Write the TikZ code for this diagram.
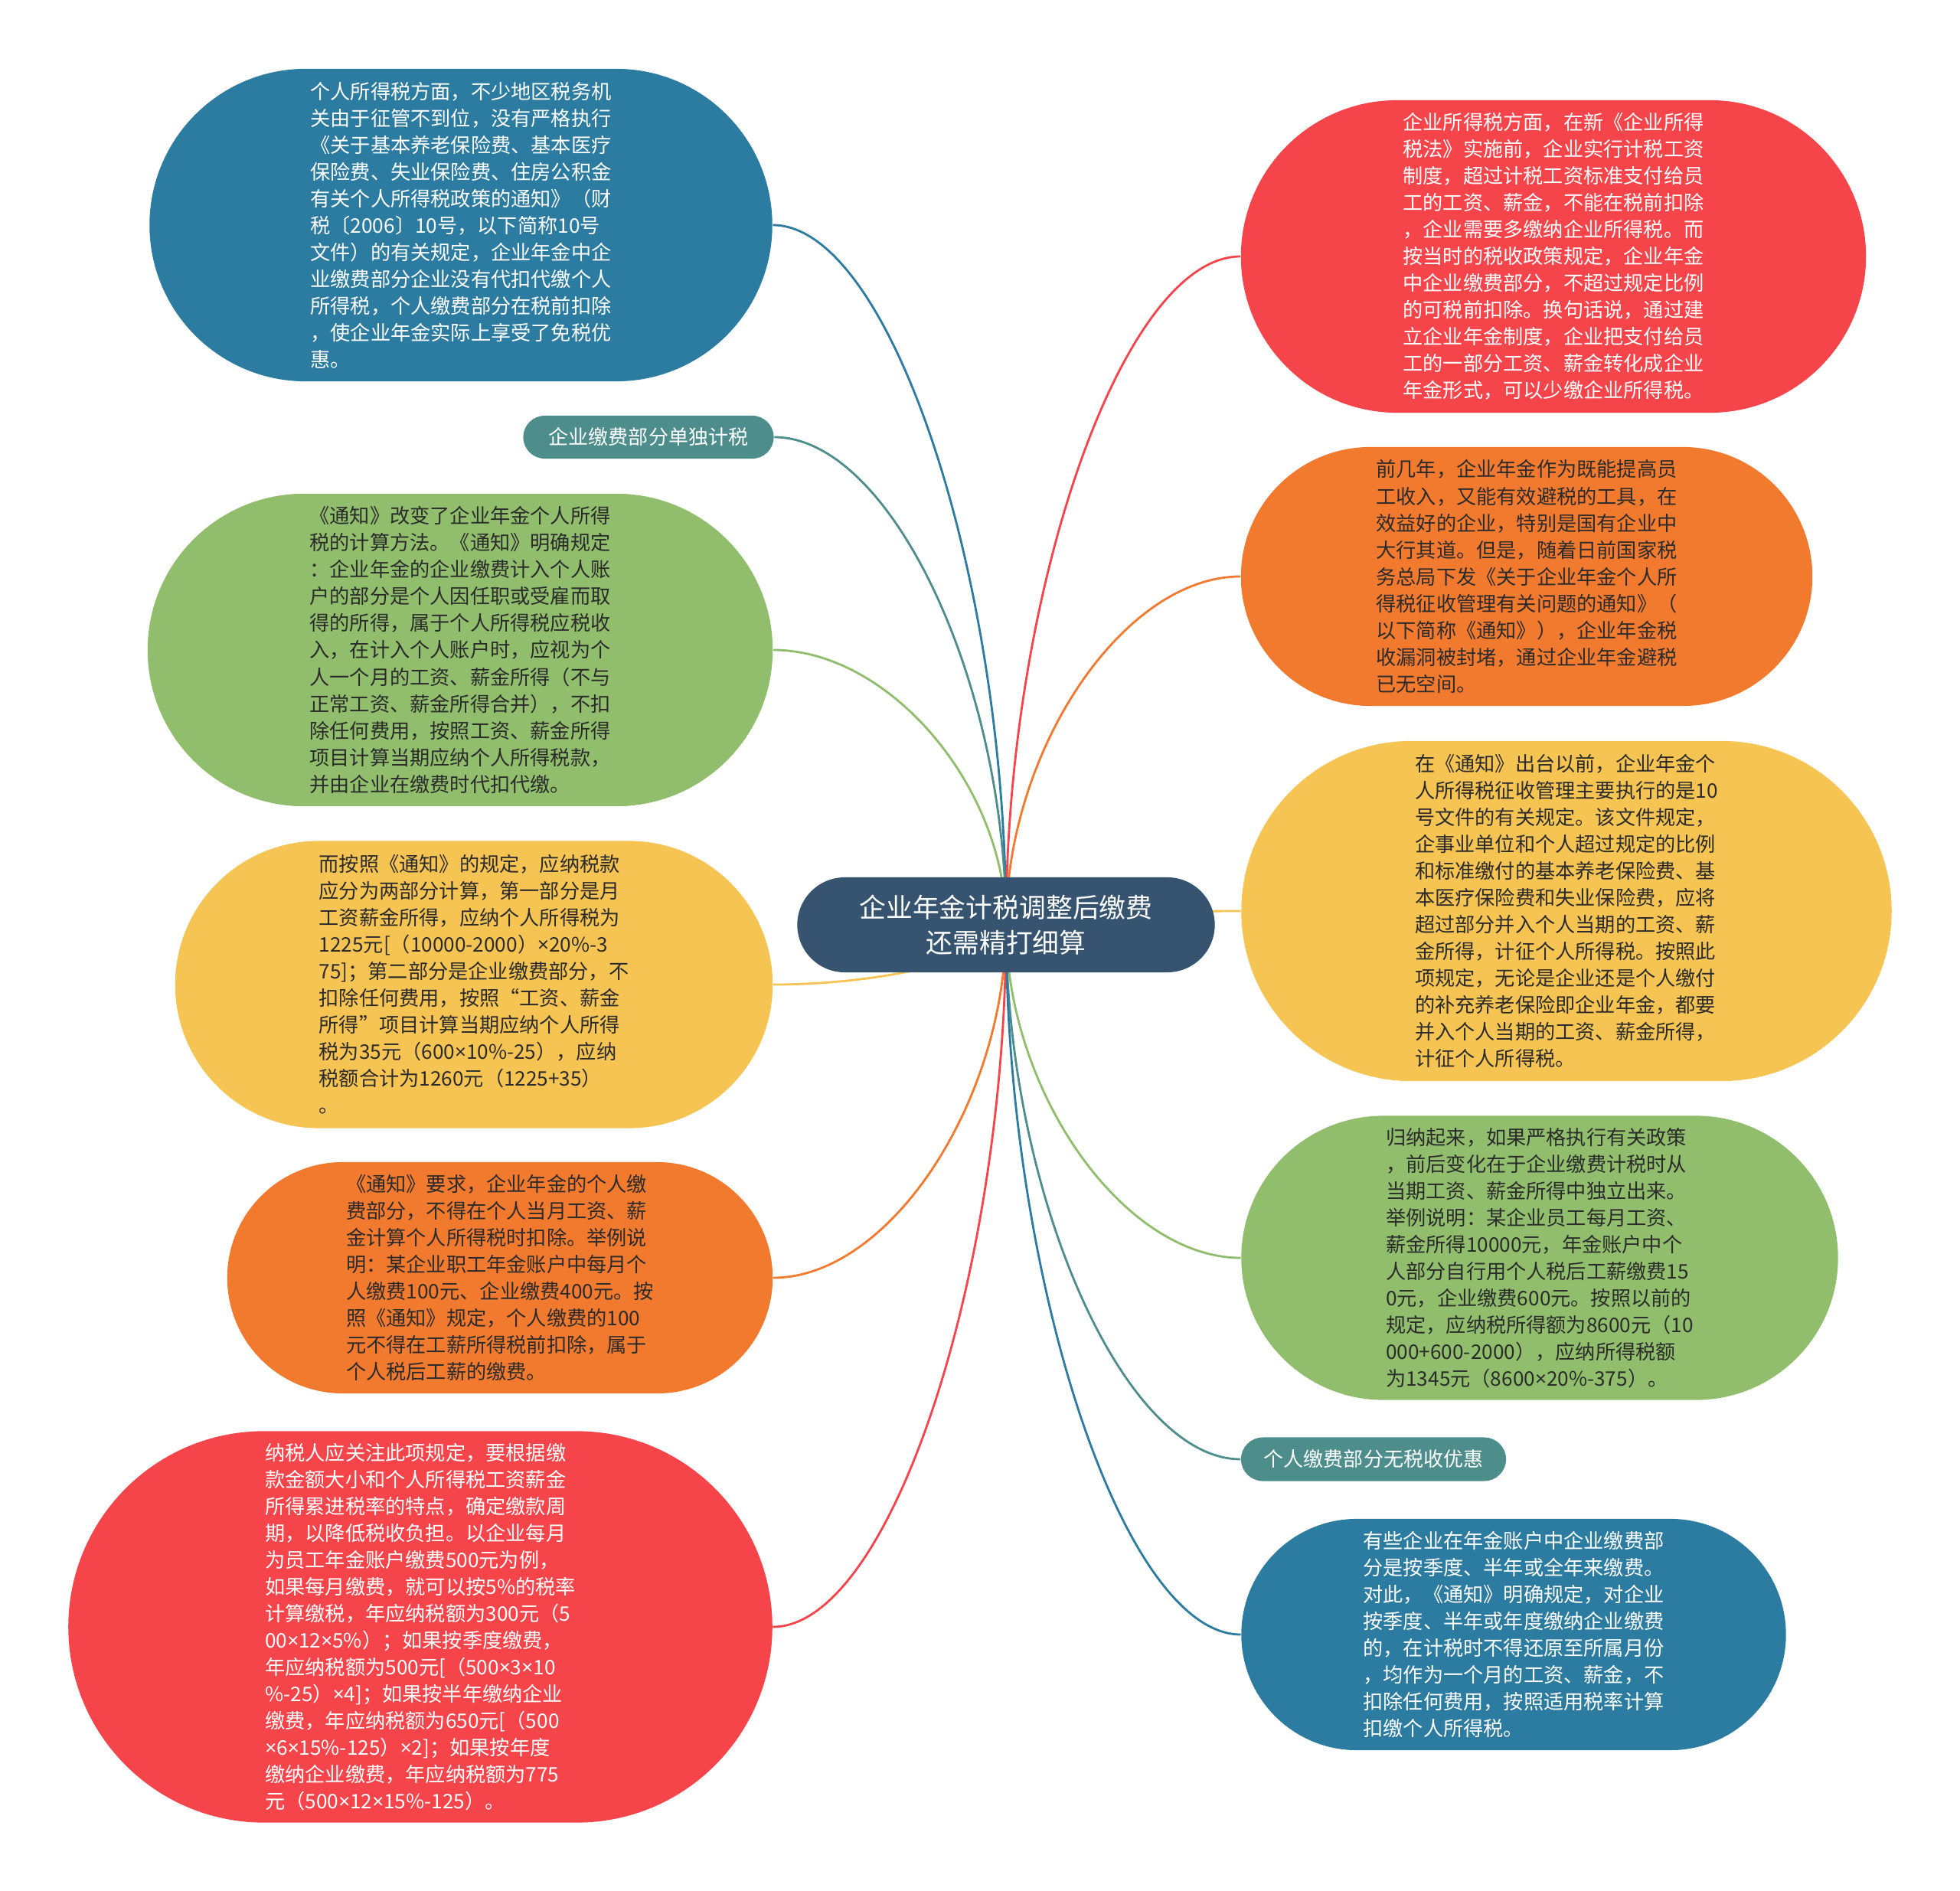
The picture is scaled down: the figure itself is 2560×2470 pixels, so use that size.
\documentclass[tikz,border=0pt]{standalone}
\usepackage{fontspec}
\setmainfont{Noto Sans CJK SC}
\newfontfamily\latinfont{Noto Sans}
\newcommand{\by}{{\latinfont ×}}
\usepackage{xcolor}
\usetikzlibrary{shapes.misc,backgrounds,calc}

\definecolor{mapblue}{HTML}{2C7BA0}
\definecolor{mapred}{HTML}{F5444A}
\definecolor{mapgreen}{HTML}{90BE6C}
\definecolor{mapyellow}{HTML}{F6C453}
\definecolor{maporange}{HTML}{F17A2F}
\definecolor{mapteal}{HTML}{4D8E8C}
\definecolor{mapnavy}{HTML}{36536F}
\definecolor{maptext}{HTML}{2B2B2B}

\begin{document}
\begin{tikzpicture}[x=0.01cm,y=-0.01cm,
   leaf/.style={rounded rectangle,align=left,inner sep=0pt,font=\fontsize{7.45pt}{9.96pt}\selectfont},
   tag/.style={rounded rectangle,fill=mapteal,text=white,inner sep=0pt,font=\fontsize{7.4pt}{9pt}\selectfont},
   link/.style={line width=0.8pt}]
   \useasboundingbox (0,0) rectangle (2560,2470);

   % root
   \node[rounded rectangle,fill=mapnavy,text=white,align=center,inner sep=0pt,minimum width=5.45cm,minimum height=1.24cm,
         font=\fontsize{9.9pt}{12.96pt}\selectfont] (root) at (1314,1208) {企业年金计税调整后缴费\\还需精打细算};

   % left side
   \node[leaf,fill=mapblue,text=white,minimum width=8.13cm,minimum height=4.08cm] (geshui) at (602,294)
      {个人所得税方面，不少地区税务机\\关由于征管不到位，没有严格执行\\《关于基本养老保险费、基本医疗\\保险费、失业保险费、住房公积金\\有关个人所得税政策的通知》（财\\税〔2006〕10号，以下简称10号\\文件）的有关规定，企业年金中企\\业缴费部分企业没有代扣代缴个人\\所得税，个人缴费部分在税前扣除\\，使企业年金实际上享受了免税优\\惠。};
   \node[tag,minimum width=3.27cm,minimum height=0.56cm] (danduji) at (847,571) {企业缴费部分单独计税};
   \node[leaf,fill=mapgreen,text=maptext,minimum width=8.16cm,minimum height=4.08cm] (gaibian) at (601,849)
      {《通知》改变了企业年金个人所得\\税的计算方法。《通知》明确规定\\：企业年金的企业缴费计入个人账\\户的部分是个人因任职或受雇而取\\得的所得，属于个人所得税应税收\\入，在计入个人账户时，应视为个\\人一个月的工资、薪金所得（不与\\正常工资、薪金所得合并），不扣\\除任何费用，按照工资、薪金所得\\项目计算当期应纳个人所得税款，\\并由企业在缴费时代扣代缴。};
   \node[leaf,fill=mapyellow,text=maptext,minimum width=7.80cm,minimum height=3.75cm] (anzhao) at (619,1286)
      {而按照《通知》的规定，应纳税款\\应分为两部分计算，第一部分是月\\工资薪金所得，应纳个人所得税为\\1225元[（10000-2000）\by20\%-3\\75]；第二部分是企业缴费部分，不\\扣除任何费用，按照“工资、薪金\\所得”项目计算当期应纳个人所得\\税为35元（600\by10\%-25），应纳\\税额合计为1260元（1225+35）\\。};
   \node[leaf,fill=maporange,text=maptext,minimum width=7.12cm,minimum height=3.02cm] (yaoqiu) at (653,1669)
      {《通知》要求，企业年金的个人缴\\费部分，不得在个人当月工资、薪\\金计算个人所得税时扣除。举例说\\明：某企业职工年金账户中每月个\\人缴费100元、企业缴费400元。按\\照《通知》规定，个人缴费的100\\元不得在工薪所得税前扣除，属于\\个人税后工薪的缴费。};
   \node[leaf,fill=mapred,text=white,minimum width=9.19cm,minimum height=5.11cm] (nashui) at (549,2125)
      {纳税人应关注此项规定，要根据缴\\款金额大小和个人所得税工资薪金\\所得累进税率的特点，确定缴款周\\期，以降低税收负担。以企业每月\\为员工年金账户缴费500元为例，\\如果每月缴费，就可以按5\%的税率\\计算缴税，年应纳税额为300元（5\\00\by12\by5\%）；如果按季度缴费，\\年应纳税额为500元[（500\by3\by10\\\%-25）\by4]；如果按半年缴纳企业\\缴费，年应纳税额为650元[（500\\\by6\by15\%-125）\by2]；如果按年度\\缴纳企业缴费，年应纳税额为775\\元（500\by12\by15\%-125）。};

   % right side
   \node[leaf,fill=mapred,text=white,minimum width=8.16cm,minimum height=4.08cm] (suodeshui) at (2029,335)
      {企业所得税方面，在新《企业所得\\税法》实施前，企业实行计税工资\\制度，超过计税工资标准支付给员\\工的工资、薪金，不能在税前扣除\\，企业需要多缴纳企业所得税。而\\按当时的税收政策规定，企业年金\\中企业缴费部分，不超过规定比例\\的可税前扣除。换句话说，通过建\\立企业年金制度，企业把支付给员\\工的一部分工资、薪金转化成企业\\年金形式，可以少缴企业所得税。};
   \node[leaf,fill=maporange,text=maptext,minimum width=7.46cm,minimum height=3.38cm] (qianjinian) at (1994,753)
      {前几年，企业年金作为既能提高员\\工收入，又能有效避税的工具，在\\效益好的企业，特别是国有企业中\\大行其道。但是，随着日前国家税\\务总局下发《关于企业年金个人所\\得税征收管理有关问题的通知》（\\以下简称《通知》），企业年金税\\收漏洞被封堵，通过企业年金避税\\已无空间。};
   \node[leaf,fill=mapyellow,text=maptext,minimum width=8.49cm,minimum height=4.44cm] (chutai) at (2046,1190)
      {在《通知》出台以前，企业年金个\\人所得税征收管理主要执行的是10\\号文件的有关规定。该文件规定，\\企事业单位和个人超过规定的比例\\和标准缴付的基本养老保险费、基\\本医疗保险费和失业保险费，应将\\超过部分并入个人当期的工资、薪\\金所得，计征个人所得税。按照此\\项规定，无论是企业还是个人缴付\\的补充养老保险即企业年金，都要\\并入个人当期的工资、薪金所得，\\计征个人所得税。};
   \node[leaf,fill=mapgreen,text=maptext,minimum width=7.79cm,minimum height=3.71cm] (guina) at (2011,1643)
      {归纳起来，如果严格执行有关政策\\，前后变化在于企业缴费计税时从\\当期工资、薪金所得中独立出来。\\举例说明：某企业员工每月工资、\\薪金所得10000元，年金账户中个\\人部分自行用个人税后工薪缴费15\\0元，企业缴费600元。按照以前的\\规定，应纳税所得额为8600元（10\\000+600-2000），应纳所得税额\\为1345元（8600\by20\%-375）。};
   \node[tag,minimum width=3.46cm,minimum height=0.57cm] (wuyouhui) at (1794,1906) {个人缴费部分无税收优惠};
   \node[leaf,fill=mapblue,text=white,minimum width=7.11cm,minimum height=3.02cm] (anjidu) at (1977,2135)
      {有些企业在年金账户中企业缴费部\\分是按季度、半年或全年来缴费。\\对此，《通知》明确规定，对企业\\按季度、半年或年度缴纳企业缴费\\的，在计税时不得还原至所属月份\\，均作为一个月的工资、薪金，不\\扣除任何费用，按照适用税率计算\\扣缴个人所得税。};

   \begin{pgfonlayer}{background}
      \fill[white] (0,0) rectangle (2560,2470);
      \foreach \n/\c in {geshui/mapblue,danduji/mapteal,gaibian/mapgreen,anzhao/mapyellow,yaoqiu/maporange,nashui/mapred}
         \draw[link,\c] (root.center) .. controls ($(root.center)!0.5!(root.center |- \n.east)$)
            and ($(\n.east)!0.5!(root.center |- \n.east)$) .. (\n.east);
      \foreach \n/\c in {suodeshui/mapred,qianjinian/maporange,chutai/mapyellow,guina/mapgreen,wuyouhui/mapteal,anjidu/mapblue}
         \draw[link,\c] (root.center) .. controls ($(root.center)!0.5!(root.center |- \n.west)$)
            and ($(\n.west)!0.5!(root.center |- \n.west)$) .. (\n.west);
   \end{pgfonlayer}
\end{tikzpicture}
\end{document}
